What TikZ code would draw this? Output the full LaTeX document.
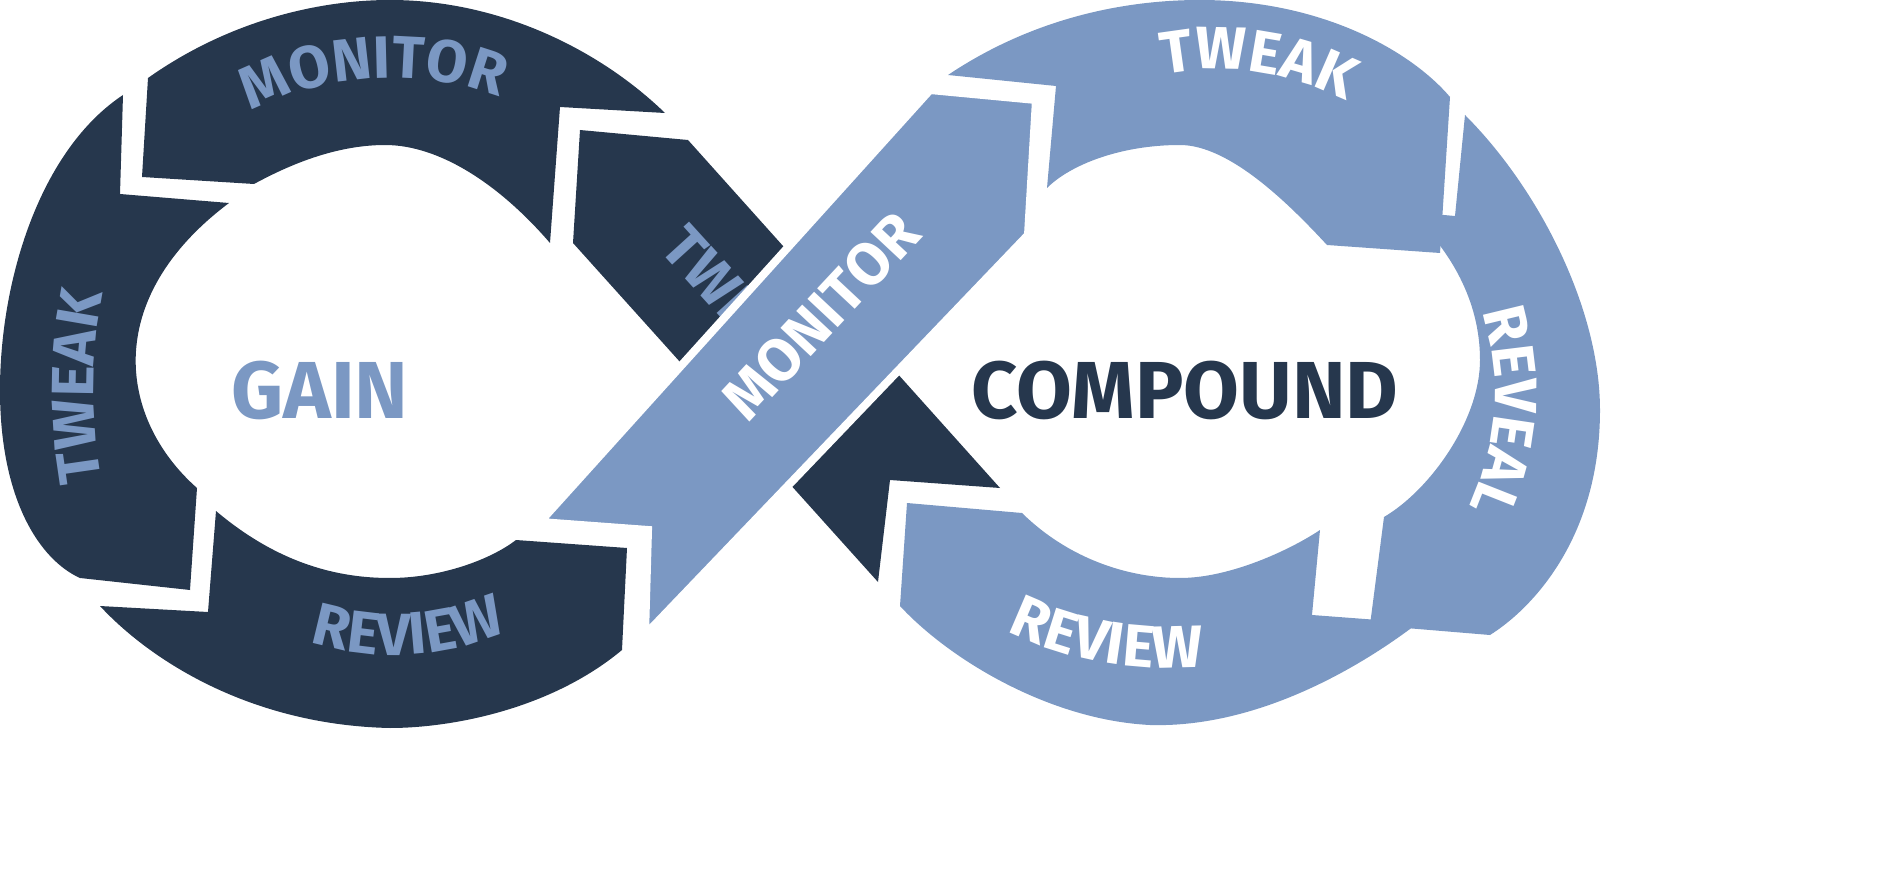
\documentclass[tikz,border=0pt]{standalone}
\usepackage{fontspec}
\setmainfont{Fira Sans}
\usetikzlibrary{decorations.text}
\definecolor{dk}{HTML}{26374D}
\definecolor{lt}{HTML}{7B98C3}
\begin{document}
\begin{tikzpicture}[x=0.01cm,y=0.01cm,
  dseg/.style={fill=dk},
  lseg/.style={fill=lt},
  lbl/.style 2 args={decorate,decoration={text along path,text align=center,text={|\fontsize{17}{17}\bfseries\color{#1}|#2}}},
]
\useasboundingbox (0,0) rectangle (1890,-876);
% left loop
\path[dseg] (148,-78) .. controls (230,-20) and (320,0) .. (390,0) .. controls (500,0) and (600,-50) .. (665,-113) -- (560,-107) -- (550,-243)
  .. controls (500,-185) and (440,-145) .. (385,-145) .. controls (330,-145) and (280,-170) .. (254,-184) -- (142,-177) -- cycle;
\path[dseg] (123,-95) .. controls (40,-150) and (0,-280) .. (0,-390) .. controls (0,-500) and (40,-560) .. (80,-578)
  -- (190,-590) -- (197,-488) .. controls (120,-420) and (100,-300) .. (229,-203) -- (120,-194) -- cycle;
\path[dseg] (100,-606) -- (208,-612) -- (216,-511) .. controls (280,-565) and (340,-578) .. (390,-578)
  .. controls (440,-578) and (490,-560) .. (516,-540) -- (627,-548) -- (622,-650)
  .. controls (550,-710) and (450,-728) .. (390,-728) .. controls (250,-725) and (150,-660) .. (100,-606) -- cycle;
% right loop
\path[lseg] (948,-75) .. controls (1030,-20) and (1120,0) .. (1200,0) .. controls (1320,0) and (1410,-50) .. (1450,-97) -- (1440,-253) -- (1327,-245)
  .. controls (1290,-205) and (1230,-145) .. (1180,-145) .. controls (1120,-145) and (1070,-165) .. (1047,-188) -- (1056,-86) -- cycle;
\path[lseg] (1465,-115) .. controls (1540,-190) and (1600,-310) .. (1600,-410) .. controls (1600,-540) and (1530,-610) .. (1490,-635)
  -- (1370,-625) -- (1384,-517) .. controls (1430,-490) and (1480,-420) .. (1480,-360) .. controls (1480,-300) and (1450,-250) .. (1410,-212) -- (1455,-216) -- cycle;
\path[lseg] (900,-606) -- (907,-503) -- (1022,-513) .. controls (1070,-560) and (1130,-578) .. (1180,-578)
  .. controls (1230,-578) and (1290,-550) .. (1320,-530) -- (1312,-615) -- (1418,-623)
  .. controls (1350,-675) and (1250,-728) .. (1150,-725) .. controls (1050,-720) and (950,-660) .. (900,-606) -- cycle;
% dark bar
\path[dseg] (580,-130) -- (688,-140) -- (1000,-488) -- (890,-480) -- (878,-582) -- (573,-243) -- cycle;
\path[lbl={lt}{TWEAK}] (648,-238) -- (795,-400);
% light bar
\path[lseg,draw=white,line width=0.08cm,line join=miter] (930,-90) -- (1036,-100) -- (1028,-235) -- (645,-635) -- (648,-530) -- (540,-522) -- cycle;
\path[lbl={white}{MONITOR}] (722,-452) -- (950,-208);
% labels on loops
\path[lbl={lt}{MONITOR}] (225,-130) .. controls (300,-68) and (440,-60) .. (528,-112);
\path[lbl={lt}{TWEAK}] (108,-512) .. controls (88,-430) and (88,-340) .. (112,-262);
\path[lbl={lt}{REVIEW}] (272,-628) .. controls (360,-668) and (460,-665) .. (542,-612);
\path[lbl={white}{TWEAK}] (1120,-88) .. controls (1200,-55) and (1300,-65) .. (1385,-125);
\path[lbl={white}{REVEAL}] (1472,-282) .. controls (1505,-370) and (1505,-440) .. (1455,-535);
\path[lbl={white}{REVIEW}] (970,-610) .. controls (1050,-665) and (1160,-680) .. (1245,-660);
\node[font=\fontsize{23}{23}\bfseries, text=lt] (gain) at (320,-390) {GAIN};
\node[font=\fontsize{23}{23}\bfseries, text=dk] (compound) at (1185,-390) {COMPOUND};
\end{tikzpicture}
\end{document}
